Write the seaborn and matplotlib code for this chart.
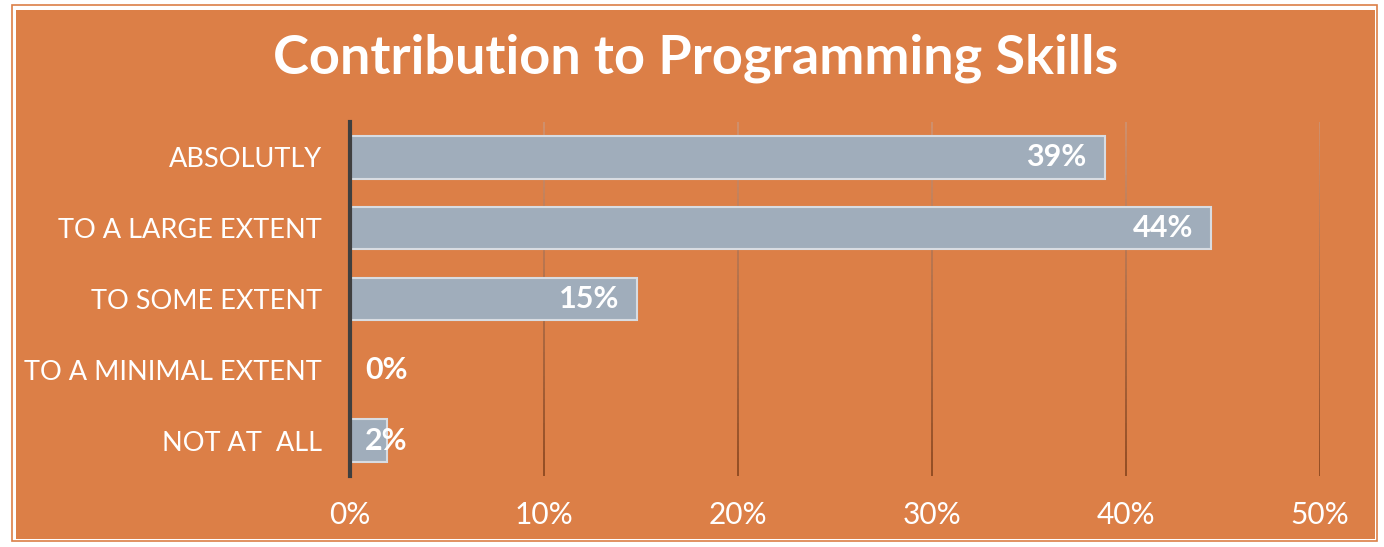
import matplotlib
matplotlib.use("Agg")
import matplotlib.pyplot as plt
from matplotlib.patches import Rectangle
from matplotlib.collections import LineCollection
from matplotlib.colors import to_rgb
import numpy as np
import seaborn as sns
import pandas as pd

# Survey responses
categories = ["ABSOLUTLY", "TO A LARGE EXTENT", "TO SOME EXTENT",
              "TO A MINIMAL EXTENT", "NOT AT  ALL"]
shares = [0.389, 0.444, 0.148, 0.0, 0.019]
x_ticks = [0.0, 0.1, 0.2, 0.3, 0.4, 0.5]
x_tick_labels = ["0%", "10%", "20%", "30%", "40%", "50%"]
title = "Contribution to Programming Skills"

ORANGE = "#DC7F47"
BAR = "#A0ADBB"
BAR_EDGE = "#D8DCE2"
GRID_TOP = "#CF9270"
GRID_BOTTOM = "#8C4820"
AXIS = "#3F3F3F"

df = pd.DataFrame({"category": categories, "share": shares})

sns.set_theme(style="white")
plt.rcParams["font.family"] = ["Lato", "DejaVu Sans"]

fig = plt.figure(figsize=(13.84, 5.47), dpi=100, facecolor="white")

# Orange panel with a thin outer rule and a white inner frame
W, H = 1384, 547
fig.patches.append(Rectangle((12 / W, 1 - 541 / H), (1377 - 12) / W, (541 - 5) / H,
                             transform=fig.transFigure, facecolor="white",
                             edgecolor=ORANGE, linewidth=1.2, zorder=-10))
fig.patches.append(Rectangle((16 / W, 1 - 539 / H), (1375 - 16) / W, (539 - 10) / H,
                             transform=fig.transFigure, facecolor=ORANGE,
                             edgecolor="none", zorder=-9))

ax = fig.add_axes([350 / W, 1 - 476 / H, (1320 - 350) / W, (476 - 122) / H])
ax.set_facecolor("none")

sns.barplot(data=df, x="share", y="category", orient="h", ax=ax,
            color=BAR, width=0.6, saturation=1, edgecolor=BAR_EDGE,
            linewidth=1.5, zorder=3)

ymax = len(categories) - 0.5
ax.set_xlim(0, 0.5)
ax.set_ylim(ymax, -0.5)
ax.set_xticks(x_ticks)
ax.set_xticklabels(x_tick_labels)
ax.set_xlabel("")
ax.set_ylabel("")

# Vertical gridlines that darken towards the bottom
n_seg = 60
ys = np.linspace(-0.5, ymax, n_seg + 1)
c0, c1 = np.array(to_rgb(GRID_TOP)), np.array(to_rgb(GRID_BOTTOM))
fracs = (np.arange(n_seg) + 0.5) / n_seg
seg_colors = [tuple(c0 + (c1 - c0) * f) for f in fracs]
for t in x_ticks[1:]:
    segs = [[(t, ys[k]), (t, ys[k + 1])] for k in range(n_seg)]
    ax.add_collection(LineCollection(segs, colors=seg_colors, linewidths=1.3,
                                     zorder=1, capstyle="butt"))

for side in ["top", "right", "bottom"]:
    ax.spines[side].set_visible(False)
ax.spines["left"].set_color(AXIS)
ax.spines["left"].set_linewidth(3)
ax.spines["left"].set_zorder(5)

ax.tick_params(axis="x", length=0, pad=18, labelsize=21.5, labelcolor="white")
ax.tick_params(axis="y", length=0, pad=20, labelsize=19.5, labelcolor="white")

# Value labels: inside the bar end, or just right of the axis for short bars
for i, v in enumerate(shares):
    label = f"{v:.0%}"
    if v > 0.05:
        ax.annotate(label, (v, i), xytext=(-13, 0), textcoords="offset points",
                    ha="right", va="center", color="white", fontsize=22,
                    fontweight="bold", zorder=6)
    else:
        ax.annotate(label, (0, i), xytext=(11, 0), textcoords="offset points",
                    ha="left", va="center", color="white", fontsize=22,
                    fontweight="bold", zorder=6)

fig.text(0.5025, 1 - 58 / H, title, ha="center", va="center", color="white",
         fontsize=39, fontweight="bold")

fig.savefig("out.png", dpi=100, facecolor=fig.get_facecolor())
